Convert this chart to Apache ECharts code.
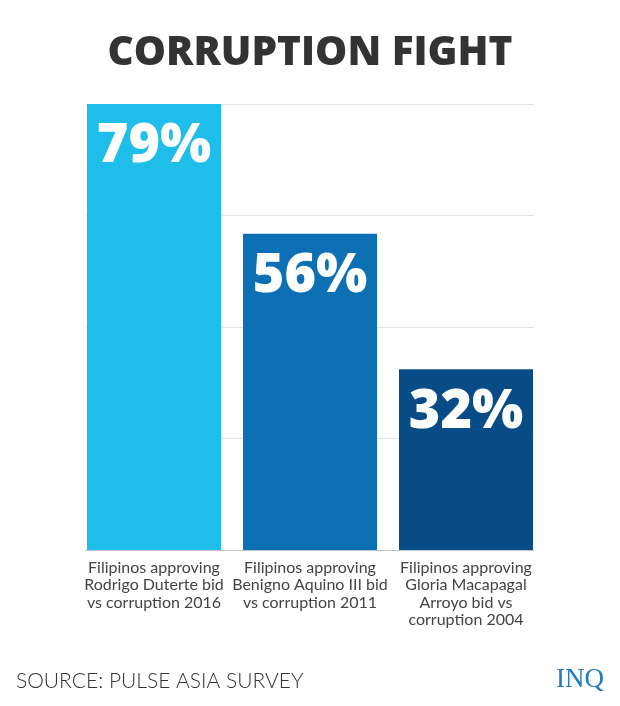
<!DOCTYPE html>
<html>
<head>
    <meta charset="utf-8">
    <title>Corruption fight</title>
    <script src="https://cdn.jsdelivr.net/npm/echarts@6/dist/echarts.min.js"></script>
    <style>
        html, body { margin: 0; padding: 0; background: #fff; }
        #main { width: 620px; height: 706px; }
    </style>
</head>
<body>
    <div id="main"></div>
    <script type="text/javascript">
        // data
        var categories = [
            'Filipinos approving\nRodrigo Duterte bid\nvs corruption 2016',
            'Filipinos approving\nBenigno Aquino III bid\nvs corruption 2011',
            'Filipinos approving\nGloria Macapagal\nArroyo bid vs\ncorruption 2004'
        ];
        var approval = [79, 56, 32];
        var barColors = ['#1ebdea', '#0e70b4', '#084c87'];

        var chart = echarts.init(document.getElementById('main'));

        var option = {
            backgroundColor: '#fff',
            animation: false,
            title: {
                text: 'CORRUPTION FIGHT',
                left: 'center',
                top: 28,
                textStyle: {
                    fontFamily: 'Open Sans',
                    fontWeight: 800,
                    fontSize: 40.5,
                    color: '#333'
                }
            },
            grid: [
                // grid 0: gridlines + baseline
                { left: 86, right: 86, top: 104, bottom: 156 },
                // grid 1: bars, a bit wider so the outer bars sit flush with the lines
                { left: 76, right: 76, top: 104, bottom: 156 }
            ],
            xAxis: [
                {
                    gridIndex: 0,
                    type: 'category',
                    data: categories,
                    axisLine: { show: true, lineStyle: { color: '#c4c4c4', width: 1 } },
                    axisTick: { show: false },
                    axisLabel: { show: false }
                },
                {
                    gridIndex: 1,
                    type: 'category',
                    data: categories,
                    axisLine: { show: false },
                    axisTick: { show: false },
                    axisLabel: {
                        interval: 0,
                        margin: 9,
                        fontFamily: 'Lato',
                        fontSize: 16,
                        lineHeight: 17.5,
                        color: '#444',
                        align: 'center'
                    }
                }
            ],
            yAxis: [
                {
                    gridIndex: 0,
                    type: 'value',
                    min: 0,
                    max: 79,
                    interval: 79 / 4,
                    axisLine: { show: false },
                    axisTick: { show: false },
                    axisLabel: { show: false },
                    splitLine: { lineStyle: { color: '#e2e2e2', width: 1 } }
                },
                {
                    gridIndex: 1,
                    type: 'value',
                    min: 0,
                    max: 79,
                    interval: 79 / 4,
                    axisLine: { show: false },
                    axisTick: { show: false },
                    axisLabel: { show: false },
                    splitLine: { show: false }
                }
            ],
            series: [{
                type: 'bar',
                xAxisIndex: 1,
                yAxisIndex: 1,
                barWidth: 134,
                z: 5,
                data: approval.map(function (v, i) {
                    return { value: v, itemStyle: { color: barColors[i] } };
                }),
                label: {
                    show: true,
                    position: 'insideTop',
                    distance: 16,
                    formatter: '{c}%',
                    fontFamily: 'Open Sans',
                    fontWeight: 800,
                    fontSize: 54,
                    color: '#fff'
                }
            }],
            graphic: [
                {
                    type: 'text',
                    left: 16,
                    top: 671,
                    style: {
                        text: 'SOURCE: PULSE ASIA SURVEY',
                        fontFamily: 'Lato',
                        fontWeight: 300,
                        fontSize: 21,
                        fill: '#333'
                    }
                },
                {
                    type: 'text',
                    right: 16,
                    top: 666,
                    style: {
                        text: 'INQ',
                        fontFamily: 'Liberation Serif',
                        fontWeight: 'normal',
                        fontSize: 27,
                        fill: '#1e7bc4'
                    }
                }
            ]
        };

        chart.setOption(option);
    </script>
</body>
</html>
